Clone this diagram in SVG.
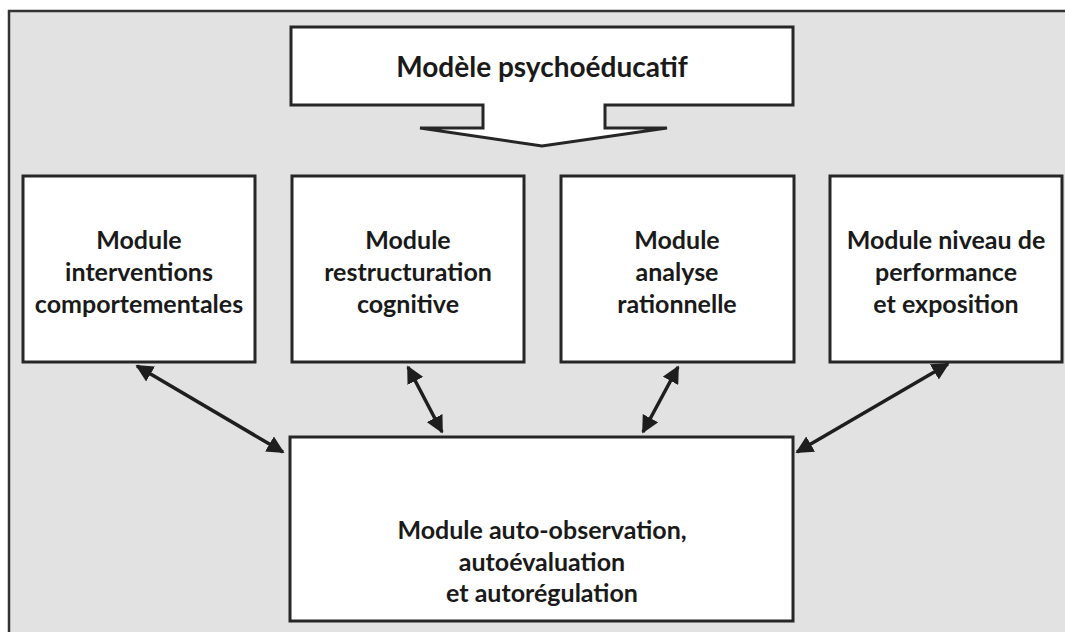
<svg xmlns="http://www.w3.org/2000/svg" width="1065" height="632" viewBox="0 0 1065 632">
<style>
.box{fill:#ffffff;stroke:#262626;stroke-width:3}
.t{font-family:Lato,"Open Sans","Liberation Sans",sans-serif;font-weight:bold;font-size:25px;fill:#1a1a1a;text-anchor:middle}
.big{font-size:28px}
.conn{stroke:#1e1e1e;stroke-width:3.5;fill:none;marker-start:url(#ah);marker-end:url(#ah)}
</style>
<defs>
<marker id="ah" viewBox="0 0 10 10" refX="9" refY="5" markerWidth="5" markerHeight="5" orient="auto-start-reverse" markerUnits="strokeWidth">
<path d="M0,0 L10,5 L0,10 Z" fill="#1e1e1e"/>
</marker>
</defs>
<rect x="0" y="0" width="1065" height="632" fill="#ffffff"/>
<rect x="9" y="11" width="1060" height="625" fill="#e2e2e2"/>
<path d="M9,632 V11 H1065" fill="none" stroke="#333333" stroke-width="2.5"/>
<g id="n0">
<path class="box" d="M291,27 H793 V105 H605 V128 H667 L542,146 L420,128 H483 V105 H291 Z"/>
<text class="t big" x="542" y="77">Modèle psychoéducatif</text>
</g>
<g id="n1">
<rect class="box" x="23" y="176" width="232" height="186"/>
<text class="t" x="139" y="249">Module</text>
<text class="t" x="139" y="281">interventions</text>
<text class="t" x="139" y="313">comportementales</text>
</g>
<g id="n2">
<rect class="box" x="292" y="176" width="232" height="186"/>
<text class="t" x="408" y="249">Module</text>
<text class="t" x="408" y="281">restructuration</text>
<text class="t" x="408" y="313">cognitive</text>
</g>
<g id="n3">
<rect class="box" x="561" y="176" width="233" height="186"/>
<text class="t" x="677" y="249">Module</text>
<text class="t" x="677" y="281">analyse</text>
<text class="t" x="677" y="313">rationnelle</text>
</g>
<g id="n4">
<rect class="box" x="830" y="176" width="232" height="186"/>
<text class="t" x="946" y="249">Module niveau de</text>
<text class="t" x="946" y="281">performance</text>
<text class="t" x="946" y="313">et exposition</text>
</g>
<g id="n5">
<rect class="box" x="290" y="437" width="503" height="184"/>
<text class="t" x="542" y="539">Module auto-observation,</text>
<text class="t" x="542" y="571">autoévaluation</text>
<text class="t" x="542" y="602">et autorégulation</text>
</g>
<g id="connectors">
<line class="conn" x1="137" y1="366" x2="283" y2="452"/>
<line class="conn" x1="408" y1="367" x2="442" y2="432"/>
<line class="conn" x1="678" y1="367" x2="643" y2="432"/>
<line class="conn" x1="948" y1="364" x2="797" y2="452"/>
</g>
</svg>
